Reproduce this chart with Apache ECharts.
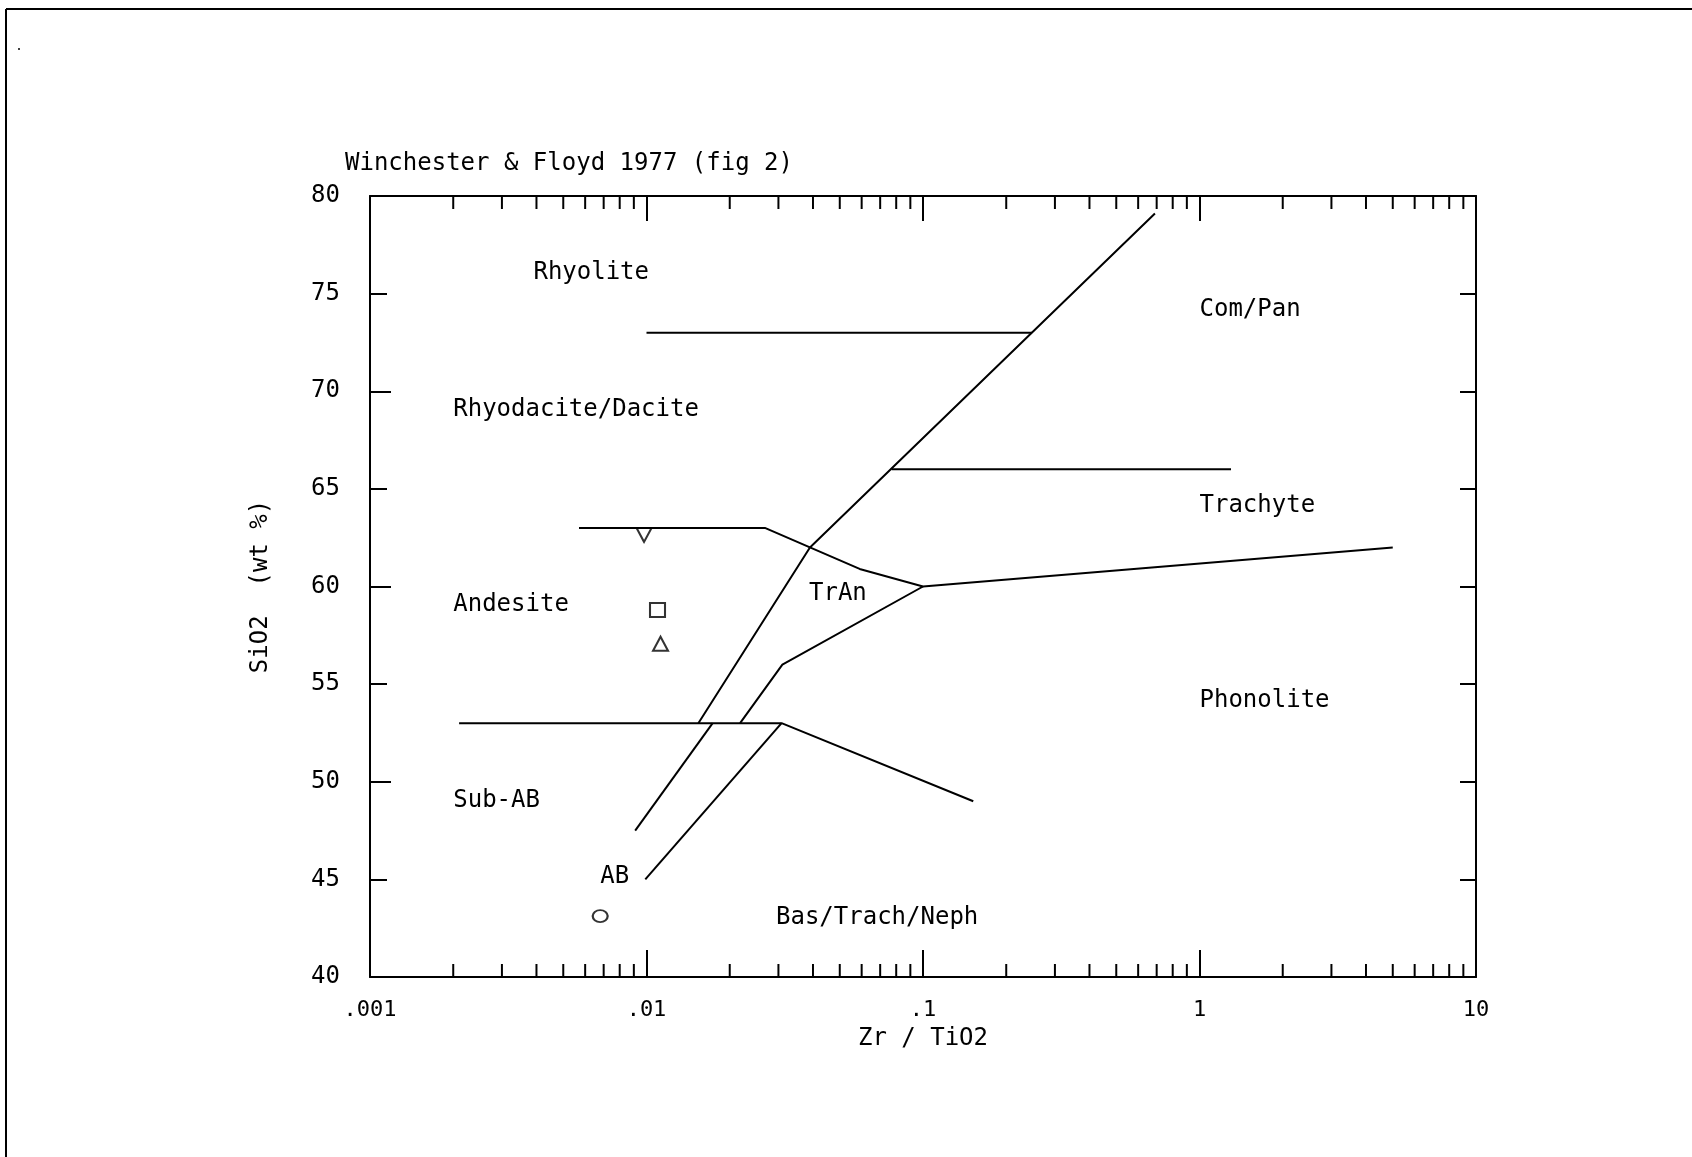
<!DOCTYPE html>
<html>
<head>
<meta charset="utf-8">
<script src="https://cdn.jsdelivr.net/npm/echarts@6/dist/echarts.min.js"></script>
<style>
html,body{margin:0;padding:0;background:#fff;}
#chart{width:1692px;height:1157px;}
</style>
</head>
<body>
<div id="chart"></div>
<script>
// ---------- data ----------
const titleText = 'Winchester & Floyd 1977 (fig 2)';
const xAxisName = 'Zr / TiO2';
const yAxisName = 'SiO2  (wt %)';

const xTickValues = [0.001, 0.01, 0.1, 1, 10];
const xTickLabels = ['.001', '.01', '.1', '1', '10'];
const xMinorTicks = [
  0.002, 0.003, 0.004, 0.005, 0.006, 0.007, 0.008, 0.009,
  0.02, 0.03, 0.04, 0.05, 0.06, 0.07, 0.08, 0.09,
  0.2, 0.3, 0.4, 0.5, 0.6, 0.7, 0.8, 0.9,
  2, 3, 4, 5, 6, 7, 8, 9
];

// field boundaries [Zr/TiO2, SiO2]
const lineRhyolite73 = [[0.01, 73], [0.248, 73]];
const lineMainDiagonal = [[0.69, 79.1], [0.039, 62], [0.0154, 53]];
const lineTrachyte66 = [[0.077, 66], [1.3, 66]];
const lineAndesite63 = [[0.0057, 63], [0.0268, 63], [0.039, 62], [0.059, 60.9], [0.1, 60], [5, 62]];
const lineTrAnLower = [[0.1, 60], [0.031, 56], [0.0218, 53]];
const lineSubAB53 = [[0.0021, 53], [0.0308, 53], [0.152, 49]];
const lineSubAB_AB = [[0.01735, 53], [0.0091, 47.5]];
const lineAB_Bas = [[0.0308, 53], [0.0099, 45]];

// field names
const fieldNames = ['Rhyolite', 'Com/Pan', 'Rhyodacite/Dacite', 'Trachyte', 'Andesite', 'TrAn', 'Phonolite', 'Sub-AB', 'AB', 'Bas/Trach/Neph'];
const fieldX = [0.0039, 1.0, 0.002, 1.0, 0.002, 0.0387, 1.0, 0.002, 0.0068, 0.0294];
const fieldY = [76.05, 74.15, 69.05, 64.15, 59.05, 59.65, 54.15, 49.05, 45.15, 43.05];

// samples
const sampleInvTriangle = [[0.0098, 62.64]];
const sampleSquare = [[0.01096, 58.8]];
const sampleTriangle = [[0.01124, 57.07]];
const sampleCircle = [[0.0068, 43.12]];

// ---------- chart ----------
const FONT = 'DejaVu Sans Mono';
const BLACK = '#000';

function lineSeries(data) {
  return {
    type: 'line', data: data, showSymbol: false, symbol: 'none',
    lineStyle: {color: BLACK, width: 2}, silent: true, z: 3
  };
}
function markerSeries(data, symbol, size, rotate) {
  return {
    type: 'scatter', data: data, symbol: symbol, symbolSize: size, symbolRotate: rotate || 0,
    itemStyle: {color: 'rgba(0,0,0,0)', borderColor: BLACK, borderWidth: 2}, z: 4, silent: true
  };
}

const labelData = fieldNames.map((n, i) => ({name: n, value: [fieldX[i], fieldY[i]]}));

const chart = echarts.init(document.getElementById('chart'), null, {renderer: 'canvas'});

const xCommon = {
  type: 'log', logBase: 10, min: 0.001, max: 10,
  splitLine: {show: false}, minorSplitLine: {show: false},
  axisLine: {show: true, onZero: false, lineStyle: {color: BLACK, width: 2}}
};

const option = {
  animation: false,
  backgroundColor: '#fff',
  title: {
    text: titleText, left: 345, top: 152, padding: 0,
    textStyle: {fontFamily: FONT, fontSize: 24, fontWeight: 'normal', color: BLACK}
  },
  grid: {left: 370, top: 196, width: 1106, height: 781, containLabel: false},
  xAxis: [
    Object.assign({}, xCommon, {
      position: 'bottom',
      axisTick: {show: true, inside: true, length: 27, lineStyle: {color: BLACK, width: 2}},
      axisLabel: {
        show: true, margin: 22, fontFamily: FONT, fontSize: 22, color: BLACK,
        formatter: function (v) {
          const e = Math.round(Math.log10(v));
          const idx = xTickValues.findIndex(t => Math.round(Math.log10(t)) === e);
          return idx >= 0 ? xTickLabels[idx] : '';
        }
      },
      name: xAxisName, nameLocation: 'middle', nameGap: 50,
      nameTextStyle: {fontFamily: FONT, fontSize: 24, color: BLACK}
    }),
    Object.assign({}, xCommon, {
      position: 'top',
      axisTick: {show: true, inside: true, length: 25, lineStyle: {color: BLACK, width: 2}},
      axisLabel: {show: false}
    })
  ],
  yAxis: [
    {
      type: 'value', min: 40, max: 80, interval: 5, position: 'left',
      splitLine: {show: false},
      axisLine: {show: true, onZero: false, lineStyle: {color: BLACK, width: 2}},
      axisTick: {show: true, inside: true, length: 17, lineStyle: {color: BLACK, width: 2}},
      axisLabel: {show: true, margin: 30, fontFamily: FONT, fontSize: 24, color: BLACK},
      name: yAxisName, nameLocation: 'middle', nameGap: 97, nameRotate: 90,
      nameTextStyle: {fontFamily: FONT, fontSize: 24, color: BLACK}
    },
    {
      type: 'value', min: 40, max: 80, interval: 10, position: 'left', offset: 0,
      splitLine: {show: false},
      axisLine: {show: false, onZero: false},
      axisTick: {show: true, inside: true, length: 21, lineStyle: {color: BLACK, width: 2}},
      axisLabel: {show: false}
    },
    {
      type: 'value', min: 40, max: 80, interval: 5, position: 'right',
      splitLine: {show: false},
      axisLine: {show: true, onZero: false, lineStyle: {color: BLACK, width: 2}},
      axisTick: {show: true, inside: true, length: 16, lineStyle: {color: BLACK, width: 2}},
      axisLabel: {show: false}
    }
  ],
  graphic: [
    {type: 'line', shape: {x1: 6, y1: 9, x2: 1692, y2: 9}, style: {stroke: BLACK, lineWidth: 2}},
    {type: 'line', shape: {x1: 6, y1: 9, x2: 6, y2: 1157}, style: {stroke: BLACK, lineWidth: 2}},
    {type: 'circle', shape: {cx: 19, cy: 49, r: 1}, style: {fill: BLACK}}
  ],
  series: [
    {
      type: 'custom', silent: true, clip: false, z: 2,
      data: xMinorTicks.map(v => [v, 40]),
      renderItem: function (params, api) {
        const x = api.value(0);
        const b = api.coord([x, 40]);
        const t = api.coord([x, 80]);
        const st = {stroke: BLACK, lineWidth: 2};
        return {
          type: 'group',
          children: [
            {type: 'line', shape: {x1: b[0], y1: b[1], x2: b[0], y2: b[1] - 13}, style: st},
            {type: 'line', shape: {x1: t[0], y1: t[1], x2: t[0], y2: t[1] + 13}, style: st}
          ]
        };
      }
    },
    lineSeries(lineRhyolite73),
    lineSeries(lineMainDiagonal),
    lineSeries(lineTrachyte66),
    lineSeries(lineAndesite63),
    lineSeries(lineTrAnLower),
    lineSeries(lineSubAB53),
    lineSeries(lineSubAB_AB),
    lineSeries(lineAB_Bas),
    {
      type: 'scatter', data: labelData, symbol: 'circle', symbolSize: 0,
      itemStyle: {color: BLACK, opacity: 1}, silent: true, z: 5,
      label: {
        show: true, formatter: '{b}', position: [0, 0], align: 'left', verticalAlign: 'middle',
        fontFamily: FONT, fontSize: 24, color: BLACK, opacity: 1, textBorderWidth: 0
      }
    },
    markerSeries(sampleInvTriangle, 'triangle', [15, 14], 180),
    markerSeries(sampleSquare, 'rect', [15, 14]),
    markerSeries(sampleTriangle, 'triangle', [15, 14]),
    markerSeries(sampleCircle, 'circle', [15, 12])
  ]
};
chart.setOption(option);
</script>
</body>
</html>
